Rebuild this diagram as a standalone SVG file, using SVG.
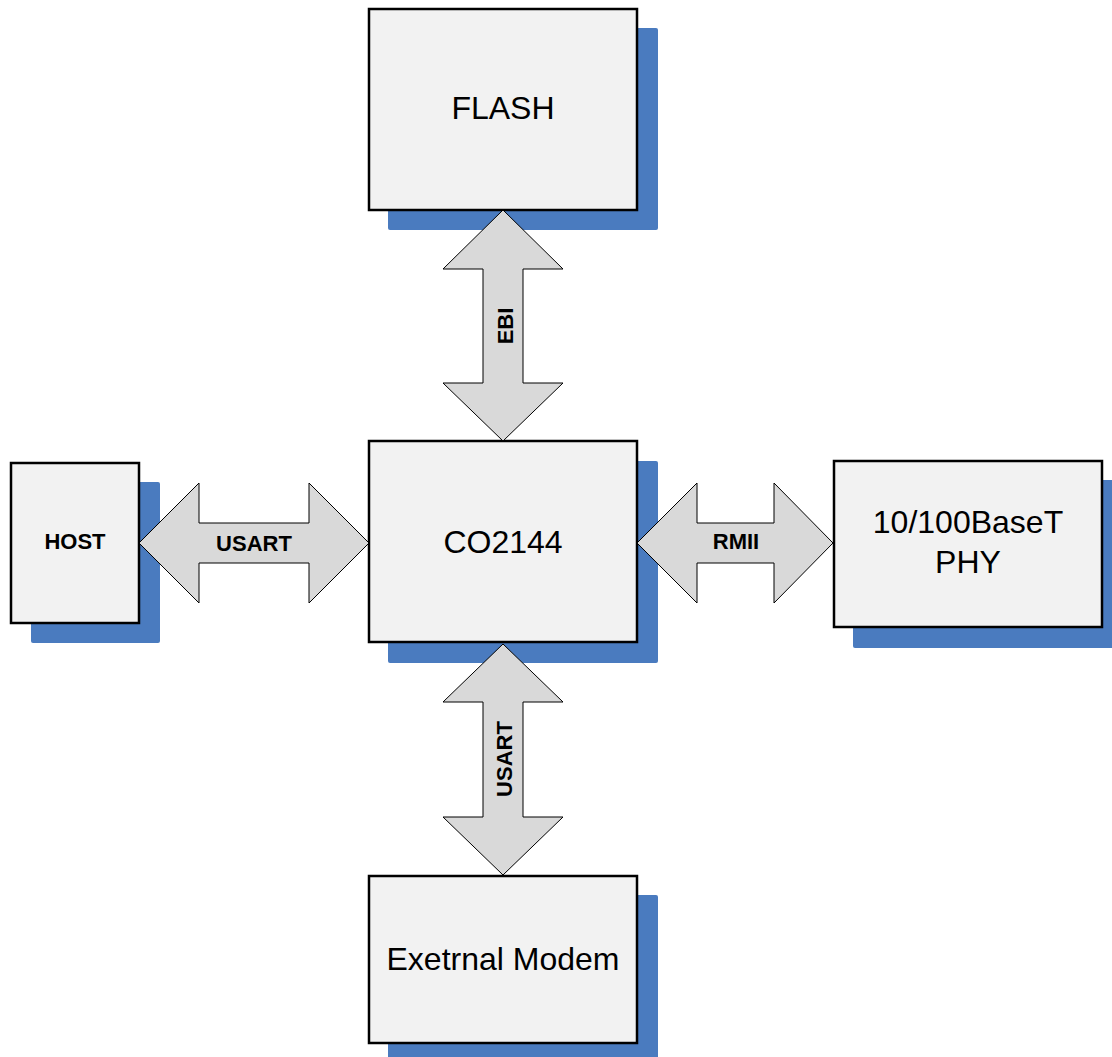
<svg xmlns="http://www.w3.org/2000/svg" width="1112" height="1057" viewBox="0 0 1112 1057">
<style>
.shadow{fill:#4a7bbf}
.box{fill:#f2f2f2;stroke:#000;stroke-width:2.5}
.arrow{fill:#d9d9d9;stroke:#000;stroke-width:1;stroke-linejoin:miter}
.t{font-family:"Liberation Sans",Arial,sans-serif;font-size:32px;fill:#000;text-anchor:middle}
.b{font-family:"Liberation Sans",Arial,sans-serif;font-size:22px;font-weight:bold;fill:#000;text-anchor:middle}
</style>
<rect width="1112" height="1057" fill="#fff"/>
<g id="flash">
<rect class="shadow" x="388" y="28" width="270" height="202" rx="2"/>
<rect class="box" x="369" y="9" width="268" height="201"/>
<text class="t" x="503" y="119">FLASH</text>
</g>
<g id="co2144">
<rect class="shadow" x="388" y="461" width="270" height="202" rx="2"/>
<rect class="box" x="369" y="441" width="268" height="201"/>
<text class="t" x="503" y="553">CO2144</text>
</g>
<g id="host">
<rect class="shadow" x="31" y="482" width="129" height="161" rx="2"/>
<rect class="box" x="11" y="463" width="128" height="160"/>
<text class="b" x="75" y="549">HOST</text>
</g>
<g id="phy">
<rect class="shadow" x="853" y="480" width="270" height="168" rx="2"/>
<rect class="box" x="834" y="461" width="268" height="166"/>
<text class="t" x="968" y="533">10/100BaseT</text>
<text class="t" x="968" y="573">PHY</text>
</g>
<g id="modem">
<rect class="shadow" x="388" y="895" width="270" height="170" rx="2"/>
<rect class="box" x="369" y="876" width="268" height="167"/>
<text class="t" x="503" y="970">Exetrnal Modem</text>
</g>
<g id="connectors">
<g id="ebi">
<path class="arrow" d="M503,210 L563,269 L523,269 L523,383 L563,383 L503,441 L443,383 L483,383 L483,269 L443,269 Z"/>
<text class="b" x="513" y="326" transform="rotate(-90 513 326)">EBI</text>
</g>
<g id="usart-bottom">
<path class="arrow" d="M503,644 L563,702 L523,702 L523,817 L563,817 L503,875 L443,817 L483,817 L483,702 L443,702 Z"/>
<text class="b" x="512" y="759" transform="rotate(-90 512 759)">USART</text>
</g>
<g id="usart-left">
<path class="arrow" d="M139,543 L199,483 L199,523 L309,523 L309,483 L369,543 L309,603 L309,563 L199,563 L199,603 Z"/>
<text class="b" x="254" y="551">USART</text>
</g>
<g id="rmii">
<path class="arrow" d="M637,543 L697,483 L697,523 L774,523 L774,483 L833,543 L774,603 L774,563 L697,563 L697,603 Z"/>
<text class="b" x="736" y="549">RMII</text>
</g>
</g>
</svg>
